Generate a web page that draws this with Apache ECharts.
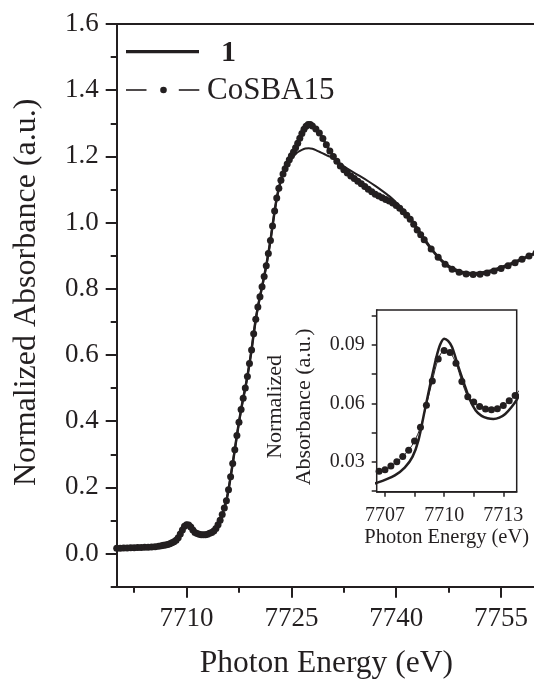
<!DOCTYPE html>
<html><head><meta charset="utf-8">
<script src="https://cdn.jsdelivr.net/npm/echarts@6/dist/echarts.min.js"></script>
<style>html,body{margin:0;padding:0;background:#fff}#c{width:534px;height:679px}</style>
</head><body><div id="c"></div>
<script>
// ---- data ----
const seriesNames = ['1', 'CoSBA15'];

const energyCo = [7700,7700.5,7701,7701.5,7702,7702.5,7703,7703.5,7704,7704.5,7705,7705.5,7706,7706.4,
 7706.7,7707.0,7707.3,7707.6,7707.9,7708.2,7708.5,7708.8,7709.1,7709.4,7709.7,7710.0,7710.3,7710.6,7710.9,7711.2,7711.5,7711.8,7712.1,7712.4,7712.7,7713.0,7713.3,7713.6,
 7713.9,7714.2,7714.5,7714.8,7715.1,7715.4,7715.7,7716.0,7716.3,7716.6,7716.9,7717.2,7717.5,7717.8,7718.1,7718.4,7718.7,7719.0,7719.3,7719.6,7719.9,7720.2,7720.5,7720.8,7721.1,7721.4,7721.7,7722.0,7722.3,7722.6,7722.9,7723.2,7723.5,7723.8,7724.1,7724.4,7724.7,7725.0,7725.3,7725.6,7725.9,7726.2,7726.5,7726.8,7727.1,7727.4,7727.7,7728.0,
 7728.5,7729,7729.5,7730,7730.5,7731,7731.5,7732,7732.5,7733,7733.5,7734,7734.5,7735,7735.5,7736,7736.5,7737,7737.5,7738,7738.5,7739,7739.5,7740,7740.5,7741,7741.5,7742,7742.5,7743,7743.5,7744,
 7745,7746,7747,7748,7749,7750,7751,7752,7753,7754,7755,7756,7757,7758,7759,7760];
const absCo = [0.016,0.0163,0.0167,0.017,0.0174,0.0178,0.0182,0.0186,0.019,0.0195,0.020,0.021,0.022,0.0235,
 0.025,0.0257,0.0277,0.0298,0.0326,0.0358,0.0405,0.0477,0.059,0.0715,0.0828,0.0872,0.0862,0.0806,0.0712,0.0634,0.0606,0.0583,0.057,0.0567,0.0572,0.0588,0.0613,0.064,
 0.068,0.076,0.087,0.101,0.118,0.138,0.160,0.193,0.232,0.272,0.314,0.357,0.397,0.435,0.469,0.500,0.535,0.574,0.615,0.664,0.708,0.745,0.776,0.806,0.837,0.870,0.907,0.946,0.990,1.035,1.074,1.104,1.128,1.147,1.163,1.177,1.190,1.202,1.213,1.226,1.240,1.255,1.269,1.282,1.291,1.296,1.296,1.292,
 1.283,1.271,1.254,1.235,1.216,1.200,1.185,1.171,1.160,1.150,1.141,1.133,1.125,1.117,1.109,1.101,1.093,1.086,1.080,1.075,1.070,1.065,1.059,1.052,1.043,1.033,1.022,1.010,0.995,0.978,0.963,0.948,
 0.920,0.895,0.874,0.859,0.850,0.845,0.843,0.844,0.848,0.854,0.861,0.870,0.879,0.889,0.899,0.908];

const energy1 = [7700,7701,7702,7703,7704,7705,7706,7706.5,7707.0,7707.5,7708.0,7708.4,7708.7,7709.0,7709.3,7709.6,7709.8,7710.0,7710.2,7710.4,7710.7,7711.0,7711.3,7711.6,7711.9,7712.2,7712.5,7712.8,7713.1,7713.4,7713.7,
 7714.0,7714.5,7715.0,7715.5,7716.0,7716.5,7717.0,7717.5,7718.0,7718.5,7719.0,7719.5,7720.0,7720.5,7721.0,7721.5,7722.0,7722.5,7723.0,7723.5,7724.0,7724.5,7725.0,7725.5,7726.0,7726.5,7727.0,7727.5,7728.0,7728.5,7729.0,7729.5,7730.0,7730.5,7731.0,
 7732,7733,7734,7735,7736,7737,7738,7739,7740,7741,7742,7743,7744,7745,7746,7747,7748,7749,7750,7751,7752,7753,7754,7755,7756,7757,7758,7759,7760];
const abs1 = [0.012,0.0125,0.013,0.0135,0.014,0.015,0.0168,0.0187,0.0205,0.0228,0.0268,0.0325,0.041,0.0555,0.0700,0.0835,0.0903,0.0933,0.0922,0.089,0.0795,0.0705,0.062,0.0563,0.0535,0.0523,0.0519,0.0526,0.0545,0.0578,0.0622,
 0.0685,0.086,0.113,0.145,0.193,0.259,0.328,0.397,0.458,0.512,0.574,0.648,0.720,0.776,0.827,0.881,0.946,1.020,1.082,1.125,1.155,1.177,1.193,1.205,1.214,1.220,1.224,1.225,1.223,1.219,1.214,1.209,1.204,1.199,1.193,
 1.178,1.163,1.150,1.138,1.125,1.111,1.096,1.080,1.061,1.039,1.014,0.985,0.953,0.923,0.898,0.878,0.864,0.855,0.850,0.848,0.849,0.853,0.859,0.866,0.874,0.883,0.892,0.901,0.910];

const mainXMajor = [7710, 7725, 7740, 7755];
const mainXMinor = [7702.5, 7717.5, 7732.5, 7747.5];
const mainYMajor = [0, 0.2, 0.4, 0.6, 0.8, 1.0, 1.2, 1.4, 1.6];
const mainYMinor = [-0.1, 0.1, 0.3, 0.5, 0.7, 0.9, 1.1, 1.3, 1.5];
const insetXTicks = [7707, 7708.5, 7710, 7711.5, 7713];
const insetXLabels = [7707, 7710, 7713];
const insetYTicks = [0.015, 0.03, 0.045, 0.06, 0.075, 0.09, 0.105];
const insetYLabels = [0.03, 0.06, 0.09];

// ---- chart ----
const INK = '#231f20';
const FONT = '"Liberation Serif", "Times New Roman", serif';
const pair = (xs, ys) => xs.map((x, i) => [x, ys[i]]);
const co = pair(energyCo, absCo);
const s1 = pair(energy1, abs1);

const chart = echarts.init(document.getElementById('c'), null, {renderer: 'canvas'});
const hidden = {show: false};
const mainLine = {show: true, onZero: false, lineStyle: {color: INK, width: 2}};
const noLine = {show: false, onZero: false};

chart.setOption({
  animation: false,
  backgroundColor: '#fff',
  grid: [
    {left: 116.7, top: 24, right: -2, bottom: 92.3, containLabel: false, outerBoundsMode: 'none'},
    {left: 376.7, top: 310, width: 140, height: 181.7, containLabel: false, outerBoundsMode: 'none',
     show: true, borderColor: INK, borderWidth: 1.5, backgroundColor: '#fff', z: 5}
  ],
  xAxis: [
    {gridIndex: 0, type: 'value', position: 'bottom', min: 7700, max: 7760,
     axisLine: mainLine, splitLine: hidden,
     axisTick: {show: true, inside: false, length: 11, customValues: mainXMajor, lineStyle: {color: INK, width: 2}},
     axisLabel: {customValues: mainXMajor, color: INK, fontFamily: FONT, fontSize: 27, margin: 19, formatter: v => String(v)},
     name: 'Photon Energy (eV)', nameLocation: 'middle', nameGap: 61,
     nameTextStyle: {color: INK, fontFamily: FONT, fontSize: 31.5}},
    {gridIndex: 0, type: 'value', position: 'bottom', min: 7700, max: 7760,
     axisLine: noLine, splitLine: hidden, axisLabel: hidden,
     axisTick: {show: true, inside: false, length: 6, customValues: mainXMinor, lineStyle: {color: INK, width: 2}}},
    {gridIndex: 0, type: 'value', position: 'top', min: 7700, max: 7760,
     axisLine: mainLine, splitLine: hidden, axisLabel: hidden, axisTick: hidden},
    {gridIndex: 1, type: 'value', position: 'bottom', min: 7706.58, max: 7713.68,
     axisLine: {show: true, onZero: false, lineStyle: {color: INK, width: 1.5}}, splitLine: hidden,
     axisTick: {show: true, inside: false, length: 5, customValues: insetXTicks, lineStyle: {color: INK, width: 1.5}},
     axisLabel: {customValues: insetXLabels, color: INK, fontFamily: FONT, fontSize: 20, margin: 14, formatter: v => String(Math.round(v))},
     name: 'Photon Energy (eV)', nameLocation: 'middle', nameGap: 35,
     nameTextStyle: {color: INK, fontFamily: FONT, fontSize: 20.5}}
  ],
  yAxis: [
    {gridIndex: 0, type: 'value', position: 'left', min: -0.1, max: 1.6,
     axisLine: mainLine, splitLine: hidden,
     axisTick: {show: true, inside: false, length: 11, customValues: mainYMajor, lineStyle: {color: INK, width: 2}},
     axisLabel: {customValues: mainYMajor, color: INK, fontFamily: FONT, fontSize: 27, margin: 18, formatter: v => v.toFixed(1)},
     name: 'Normalized Absorbance (a.u.)', nameLocation: 'middle', nameGap: 74, nameRotate: 90,
     nameTextStyle: {color: INK, fontFamily: FONT, fontSize: 32, padding: [0, 0, 0, 26]}},
    {gridIndex: 0, type: 'value', position: 'left', min: -0.1, max: 1.6,
     axisLine: noLine, splitLine: hidden, axisLabel: hidden,
     axisTick: {show: true, inside: false, length: 6, customValues: mainYMinor, lineStyle: {color: INK, width: 2}}},
    {gridIndex: 1, type: 'value', position: 'left', min: 0.0144, max: 0.1081,
     axisLine: {show: true, onZero: false, lineStyle: {color: INK, width: 1.5}}, splitLine: hidden,
     axisTick: {show: true, inside: false, length: 5, customValues: insetYTicks, lineStyle: {color: INK, width: 1.5}},
     axisLabel: {customValues: insetYLabels, color: INK, fontFamily: FONT, fontSize: 20, margin: 12, formatter: v => v.toFixed(2)},
     name: 'Normalized\nAbsorbance (a.u.)', nameLocation: 'middle', nameGap: 58, nameRotate: 90,
     nameTextStyle: {color: INK, fontFamily: FONT, fontSize: 22, lineHeight: 29, padding: [0, 12, 0, 0]}}
  ],
  series: [
    {name: seriesNames[0], type: 'line', xAxisIndex: 0, yAxisIndex: 0, data: s1, smooth: 0.2,
     showSymbol: false, lineStyle: {color: INK, width: 2}, z: 3},
    {name: seriesNames[1], type: 'line', xAxisIndex: 0, yAxisIndex: 0, data: co, smooth: 0.2,
     symbol: 'circle', symbolSize: 7, itemStyle: {color: INK}, lineStyle: {color: INK, width: 2.5}, z: 2},
    {name: seriesNames[0], type: 'line', xAxisIndex: 3, yAxisIndex: 2, data: s1, smooth: 0.3,
     showSymbol: false, clip: true, lineStyle: {color: INK, width: 2.5}, z: 7},
    {name: seriesNames[1], type: 'line', xAxisIndex: 3, yAxisIndex: 2, data: co, smooth: 0.3,
     symbol: 'circle', symbolSize: 7, clip: true, itemStyle: {color: INK}, lineStyle: {color: INK, width: 1}, z: 6}
  ],
  graphic: [
    {type: 'line', shape: {x1: 126, y1: 51.7, x2: 199, y2: 51.7}, style: {stroke: INK, lineWidth: 3.3}},
    {type: 'text', x: 221, y: 53.2, style: {text: seriesNames[0], fill: INK, font: 'bold 30px "Liberation Serif", serif', verticalAlign: 'middle'}},
    {type: 'line', shape: {x1: 126, y1: 90, x2: 146.5, y2: 90}, style: {stroke: INK, lineWidth: 1.6}},
    {type: 'circle', shape: {cx: 163.5, cy: 90, r: 3.3}, style: {fill: INK}},
    {type: 'line', shape: {x1: 178.8, y1: 90, x2: 199.3, y2: 90}, style: {stroke: INK, lineWidth: 1.6}},
    {type: 'text', x: 207, y: 91.2, style: {text: seriesNames[1], fill: INK, font: '31px "Liberation Serif", serif', verticalAlign: 'middle'}}
  ]
});
</script>
</body></html>
